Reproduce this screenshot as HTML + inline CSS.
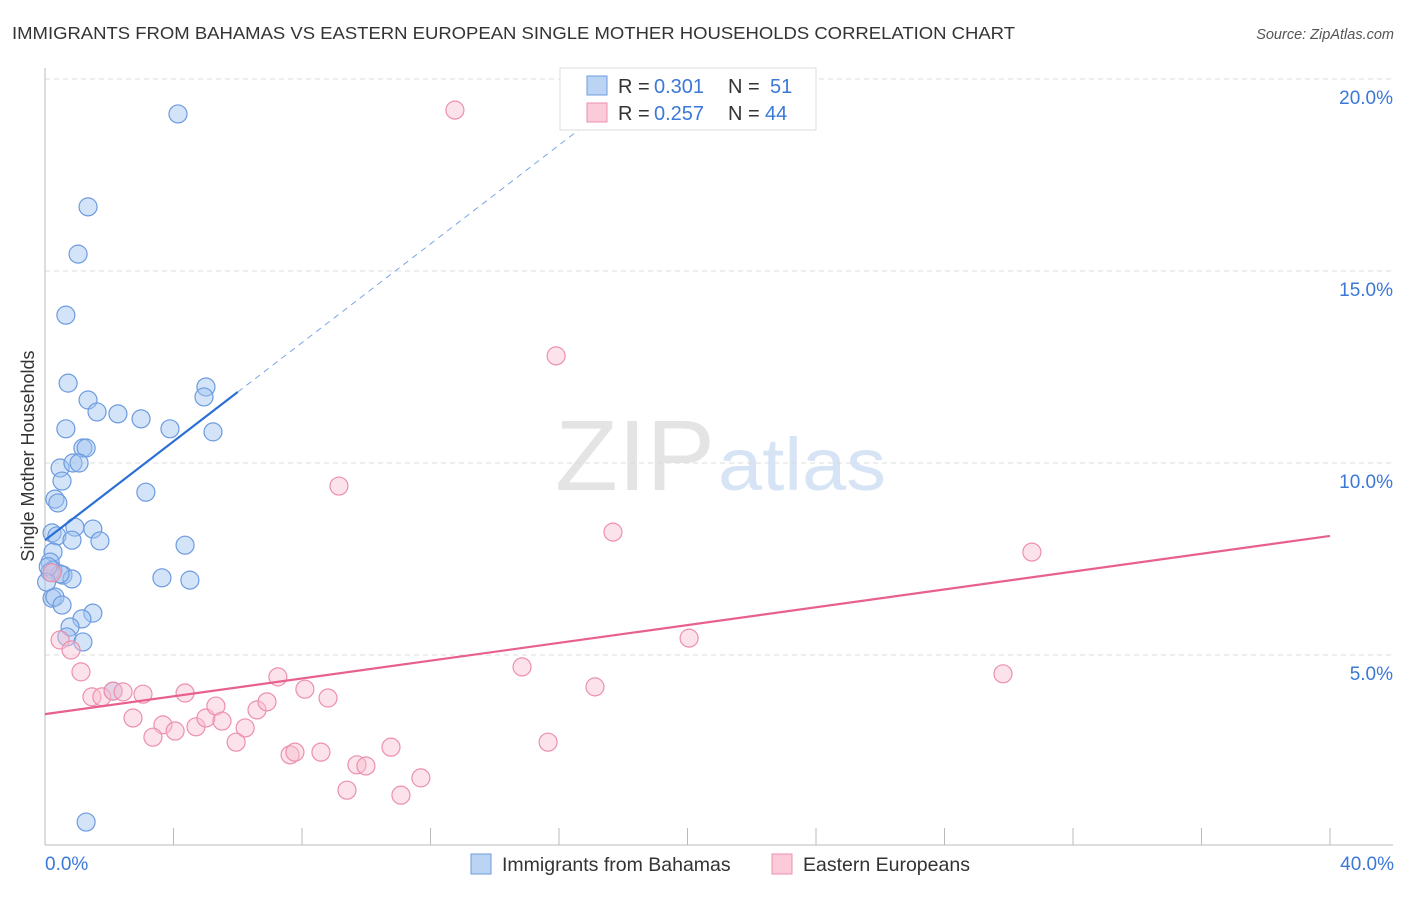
<!DOCTYPE html>
<html><head><meta charset="utf-8"><style>
body{margin:0;background:#fff;font-family:"Liberation Sans",sans-serif;}
svg text{font-family:"Liberation Sans",sans-serif;}
</style></head><body>
<svg id="chart" width="1406" height="892">
<text x="12" y="39" font-size="17.5" fill="#333" textLength="1003" lengthAdjust="spacingAndGlyphs">IMMIGRANTS FROM BAHAMAS VS EASTERN EUROPEAN SINGLE MOTHER HOUSEHOLDS CORRELATION CHART</text>
<text x="1394" y="39" font-size="14.5" fill="#555" text-anchor="end" font-style="italic">Source: ZipAtlas.com</text>
<text x="555" y="490" font-size="100" fill="#e4e4e4" textLength="160" lengthAdjust="spacingAndGlyphs" font-family="Liberation Serif">ZIP</text>
<text x="718" y="490" font-size="74" fill="#d6e4f5" textLength="168" lengthAdjust="spacingAndGlyphs">atlas</text>
<g id="grid"></g><g id="axes"></g><g id="marks"></g>
<text transform="translate(34,456) rotate(-90)" font-size="18" fill="#333" text-anchor="middle">Single Mother Households</text>
<text x="45" y="870" font-size="19" fill="#3b78d8">0.0%</text>
<text x="1394" y="870" font-size="19" fill="#3b78d8" text-anchor="end">40.0%</text>
<g>
<rect x="560" y="68" width="256" height="62" fill="#fff" stroke="#ddd"/>
<rect x="587" y="76" width="20" height="19" fill="#bcd4f4" stroke="#6c9be0"/>
<rect x="587" y="103" width="20" height="19" fill="#fbcbd9" stroke="#ec90ae"/>
<text x="618" y="93" font-size="20" fill="#333">R =</text>
<text x="654" y="93" font-size="20" fill="#3b78d8">0.301</text>
<text x="728" y="93" font-size="20" fill="#333">N =</text>
<text x="770" y="93" font-size="20" fill="#3b78d8">51</text>
<text x="618" y="120" font-size="20" fill="#333">R =</text>
<text x="654" y="120" font-size="20" fill="#3b78d8">0.257</text>
<text x="728" y="120" font-size="20" fill="#333">N =</text>
<text x="765" y="120" font-size="20" fill="#3b78d8">44</text>
</g>
<g>
<rect x="471" y="854" width="20" height="20" fill="#bcd4f4" stroke="#6c9be0"/>
<text x="502" y="871" font-size="19.5" fill="#333">Immigrants from Bahamas</text>
<rect x="772" y="854" width="20" height="20" fill="#fbcbd9" stroke="#ec90ae"/>
<text x="803" y="871" font-size="19.5" fill="#333">Eastern Europeans</text>
</g>
</svg>
<script>
const yTicks=[5,10,15,20];
const yTickLabels=["5.0%","10.0%","15.0%","20.0%"];
const xTicks=[4,8,12,16,20,24,28,32,36,40];
const blueX=[4.14,1.34,1.03,0.65,0.72,1.34,1.62,2.27,2.99,0.65,3.89,5.23,5.01,4.95,1.18,1.28,0.47,0.87,1.06,0.53,0.31,0.40,3.14,0.22,0.37,0.93,0.84,1.49,1.71,4.36,0.25,0.16,0.25,0.56,0.84,3.64,4.51,0.22,0.31,0.53,1.49,1.15,0.78,0.68,1.18,2.12,1.28,0.16,0.47,0.10,0.05];
const blueY=[19.09,16.67,15.44,13.85,12.08,11.64,11.33,11.28,11.15,10.89,10.89,10.81,11.98,11.72,10.39,10.39,9.87,10.00,10.00,9.53,9.06,8.96,9.24,8.18,8.10,8.33,7.99,8.28,7.97,7.86,7.68,7.42,7.21,7.08,6.98,7.01,6.95,6.48,6.51,6.30,6.09,5.94,5.73,5.47,5.34,4.06,0.65,7.16,7.11,7.30,6.90];
const pinkX=[12.76,15.91,9.15,17.68,30.72,20.05,14.85,29.82,17.12,15.66,0.47,0.81,1.12,1.46,1.77,2.12,2.43,3.05,4.36,7.25,8.09,8.81,2.74,3.67,3.36,4.05,4.70,5.01,5.32,5.51,6.23,5.95,6.60,6.91,7.63,7.78,8.59,9.71,9.99,9.40,10.77,11.08,11.70,0.22];
const pinkY=[19.19,12.79,9.40,8.20,7.68,5.44,4.69,4.51,4.17,2.73,5.39,5.13,4.56,3.91,3.91,4.06,4.04,3.98,4.01,4.43,4.11,3.88,3.36,3.18,2.86,3.02,3.13,3.36,3.67,3.28,3.10,2.73,3.57,3.78,2.40,2.47,2.47,2.14,2.11,1.48,2.60,1.35,1.80,7.14];
const blueTrend=[7.99,0.643];
const pinkTrend=[3.46,0.116];
const NS="http://www.w3.org/2000/svg";
const xs=v=>45+v*32.125, ys=v=>847-v*38.4;
function mk(tag,attrs,parent){const e=document.createElementNS(NS,tag);for(const k in attrs)e.setAttribute(k,attrs[k]);document.getElementById(parent).appendChild(e);return e;}
yTicks.forEach((t,i)=>{
 const g=mk('line',{x1:45,x2:1393,y1:ys(t),y2:ys(t),stroke:'#ddd','stroke-dasharray':'5,4'},'grid');
 
 
 const l=mk('text',{x:1393,y:ys(t)+25,'font-size':19,fill:'#3b78d8','text-anchor':'end'},'grid');l.textContent=yTickLabels[i];
 
 
});
const ax=mk('line',{x1:45,x2:45,y1:68,y2:845,stroke:'#bbb'},'axes');


const bx=mk('line',{x1:45,x2:1393,y1:845,y2:845,stroke:'#bbb'},'axes');


xTicks.forEach(t=>{const e=mk('line',{x1:xs(t),x2:xs(t),y1:828,y2:845,stroke:'#bbb'},'axes');
 
 });
blueX.forEach((x,i)=>{const c=mk('circle',{cx:xs(x),cy:ys(blueY[i]),r:9,fill:'rgba(160,196,240,0.45)',stroke:'#6c9be0','stroke-width':1.2},'marks');
 
 });
pinkX.forEach((x,i)=>{const c=mk('circle',{cx:xs(x),cy:ys(pinkY[i]),r:9,fill:'rgba(248,190,208,0.45)',stroke:'#ec90ae','stroke-width':1.2},'marks');
 
 });
const bl=v=>blueTrend[0]+blueTrend[1]*v, pl=v=>pinkTrend[0]+pinkTrend[1]*v;
const t1=mk('line',{x1:xs(0),y1:ys(bl(0)),x2:xs(6),y2:ys(bl(6)),stroke:'#2a6fd6','stroke-width':2.2},'marks');


const t2=mk('line',{x1:xs(6),y1:ys(bl(6)),x2:xs(17),y2:ys(bl(17)),stroke:'#7aa6e6','stroke-width':1,'stroke-dasharray':'6,5'},'marks');


const t3=mk('line',{x1:xs(0),y1:ys(pl(0)),x2:xs(40),y2:ys(pl(40)),stroke:'#e8608e','stroke-width':2.2},'marks');


</script>
</body></html>
